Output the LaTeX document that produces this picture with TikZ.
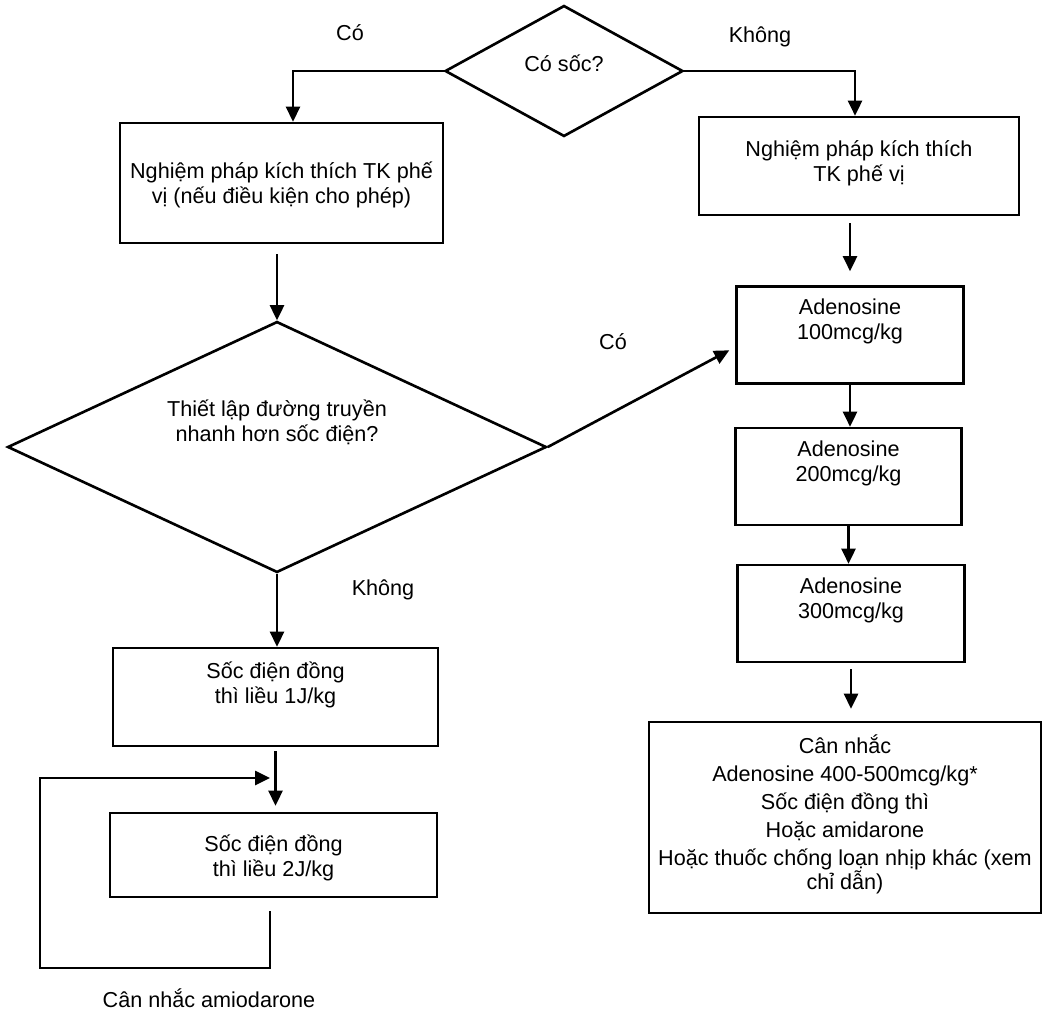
\documentclass[tikz,border=0pt]{standalone}
\usepackage{fontspec}
\setmainfont{Liberation Sans}
\usetikzlibrary{arrows.meta,shapes.geometric}
\newcommand{\txtfont}{\fontsize{12.3}{14.2}\selectfont}
\newcommand{\finfont}{\fontsize{12.3}{15.9}\selectfont}

\begin{document}
\begin{tikzpicture}[
    x=0.02cm, y=-0.02cm,
    >={Triangle[length=3mm,width=2.8mm]},
    link/.style={draw=black, line width=1.5pt},
    box/.style={rectangle, draw=black, line width=1.5pt, inner sep=0pt, align=center, font=\txtfont},
    dose/.style={box, minimum width=4.53cm, text height=1.06cm, text depth=0.88cm},
    dec/.style={diamond, draw=black, line width=1.5pt, inner sep=0pt, align=center, font=\txtfont},
    tag/.style={inner sep=0pt, font=\txtfont},
  ]
  \useasboundingbox (0,0) rectangle (1045,1011);

  %% ---------------- top: shock? ----------------
  \node[dec, minimum width=4.76cm, minimum height=2.62cm, text height=0.35cm, text depth=0.35cm] (d1) at (564,71) {Có sốc?};
  \node[tag] (yes1) at (350,33) {Có};
  \node[tag] (no1) at (760,37) {Không};

  %% ---------------- left column ----------------
  \node[box, minimum width=6.46cm, text height=1.6cm, text depth=0.8cm] (b1) at (281.5,183)
    {Nghiệm pháp kích thích TK phế\\vị (nếu điều kiện cho phép)};
  \node[dec, minimum width=10.78cm, minimum height=5.02cm, shape aspect=2.15, text height=1.0cm, text depth=1.24cm] (d2) at (277,447)
    {Thiết lập đường truyền\\nhanh hơn sốc điện?};
  \node[tag] (no2) at (383,590) {Không};
  \node[box, minimum width=6.5cm, text height=1.1cm, text depth=0.86cm] (b3) at (275.5,697)
    {Sốc điện đồng\\thì liều 1J/kg};
  \node[box, minimum width=6.54cm, text height=1.26cm, text depth=0.42cm] (b4) at (273.5,855)
    {Sốc điện đồng\\thì liều 2J/kg};
  \node[tag] (amio) at (209,998) {Cân nhắc amiodarone};

  %% ---------------- right column ----------------
  \node[box, minimum width=6.4cm, text height=1.28cm, text depth=0.68cm] (b2) at (859,166)
    {Nghiệm pháp kích thích\\TK phế vị};
  \node[dose] (a1) at (850,335) {Adenosine\\100mcg/kg};
  \node[dose] (a2) at (848.5,476.5) {Adenosine\\200mcg/kg};
  \node[dose] (a3) at (851,613.5) {Adenosine\\300mcg/kg};
  \node[tag] (yes2) at (613,342) {Có};
  \node[box, font=\finfont, minimum width=7.84cm, text height=3.36cm, text depth=0.46cm] (fin) at (845,817.5)
    {Cân nhắc\\Adenosine 400-500mcg/kg*\\Sốc điện đồng thì\\Hoặc amidarone\\Hoặc thuốc chống loạn nhịp khác (xem\\[-1.7pt]chỉ dẫn)};

  %% ---------------- arrows ----------------
  \draw[link, ->] (d1.west) -| ([xshift=0.23cm]b1.north);
  \draw[link, ->] (d1.east) -| ([xshift=-0.08cm]b2.north);
  \draw[link, ->, shorten <=0.14cm, shorten >=0.28cm] (b2.south -| a1.north) -- (a1.north);
  \draw[link, ->, shorten <=0.2cm] (b1.south -| d2.north) -- (d2.north);
  \draw[link, ->, shorten >=0.14cm] (d2.east) -- ([yshift=-0.24cm]a1.west);
  \draw[link, ->] (a1.south) -- (a1.south |- a2.north);
  \draw[link, ->] (a2.south) -- (a2.south |- a3.north);
  \draw[link, ->, shorten <=0.12cm, shorten >=0.24cm] (a3.south) -- (a3.south |- fin.north);
  \draw[link, ->] (d2.south) -- (d2.south |- b3.north);
  \draw[link, ->, shorten <=0.08cm, shorten >=0.12cm] (b3.south) -- (b3.south |- b4.north);

  %% ---------------- repeat loop ----------------
  \coordinate (lp) at (40,968);
  \coordinate (lj) at (270,778);
  \draw[link, ->, shorten <=0.26cm] (lj |- b4.south) |- (lp) |- (lj);

\end{tikzpicture}
\end{document}
